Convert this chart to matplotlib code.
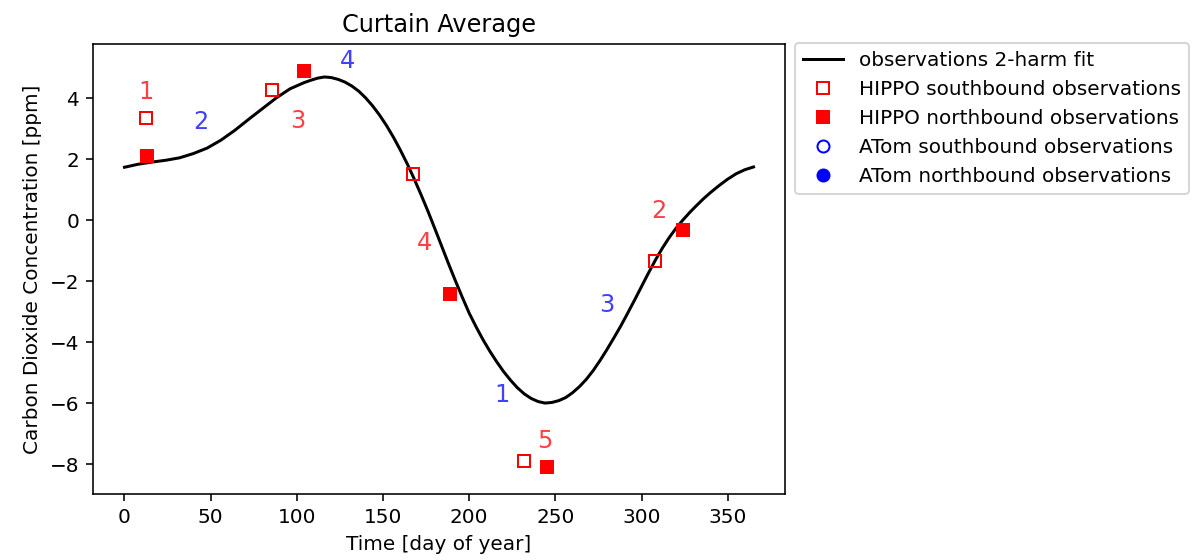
import matplotlib
matplotlib.use("Agg")
import matplotlib.pyplot as plt
import numpy as np

# 2-harmonic fit curve
fit_day = [0, 8, 16, 24, 32, 40, 48, 56, 64, 72, 80, 88, 96, 104, 108, 112, 116,
           120, 124, 128, 132, 136, 140, 144, 148, 152, 156, 160, 164, 168, 172,
           176, 180, 184, 188, 192, 196, 200, 204, 208, 212, 216, 220, 224, 228,
           232, 236, 240, 244, 248, 252, 256, 260, 264, 268, 272, 276, 280, 284,
           288, 292, 296, 300, 304, 308, 312, 316, 320, 324, 328, 332, 336, 340,
           345, 350, 355, 360, 365]
fit_co2 = [1.73, 1.83, 1.90, 1.96, 2.04, 2.18, 2.36, 2.62, 2.94, 3.30, 3.65, 4.00,
           4.30, 4.50, 4.58, 4.65, 4.69, 4.67, 4.61, 4.52, 4.39, 4.22, 4.00, 3.74,
           3.44, 3.10, 2.72, 2.30, 1.85, 1.36, 0.84, 0.30, -0.27, -0.85, -1.43,
           -1.99, -2.53, -3.05, -3.50, -3.92, -4.30, -4.65, -4.97, -5.25, -5.50,
           -5.70, -5.85, -5.95, -6.00, -5.98, -5.92, -5.82, -5.66, -5.46, -5.22,
           -4.93, -4.60, -4.24, -3.86, -3.47, -3.05, -2.62, -2.18, -1.74, -1.32,
           -0.93, -0.58, -0.27, 0.00, 0.25, 0.48, 0.70, 0.90, 1.13, 1.34, 1.52,
           1.65, 1.74]

# HIPPO observations
hippo_s_day = [12.2, 85.8, 167.5, 231.9, 307.8]
hippo_s_co2 = [3.34, 4.26, 1.51, -7.90, -1.34]
hippo_n_day = [13.3, 104.3, 189.0, 245.2, 324.0]
hippo_n_co2 = [2.10, 4.89, -2.43, -8.10, -0.33]

# campaign number labels
hippo_lab = ['1', '3', '4', '5', '2']
hippo_lab_x = [12.2, 100.3, 173.9, 244.0, 310.0]
hippo_lab_y = [4.20, 3.25, -0.75, -7.25, 0.30]
atom_lab = ['2', '4', '1', '3']
atom_lab_x = [44.6, 129.3, 219.0, 280.0]
atom_lab_y = [3.20, 5.20, -5.74, -2.80]

fig = plt.figure(figsize=(1199 / 144, 560 / 144), dpi=144)
ax = fig.add_axes([0.0776, 0.1179, 0.5771, 0.8035])

ax.plot(fit_day, fit_co2, 'k-', label='observations 2-harm fit')
ax.plot(hippo_s_day, hippo_s_co2, 's', color='red', mfc='none', ls='none',
        label='HIPPO southbound observations')
ax.plot(hippo_n_day, hippo_n_co2, 's', color='red', ls='none',
        label='HIPPO northbound observations')
ax.plot([], [], 'o', color='blue', mfc='none', ls='none',
        label='ATom southbound observations')
ax.plot([], [], 'o', color='blue', ls='none',
        label='ATom northbound observations')

for t, x, y in zip(hippo_lab, hippo_lab_x, hippo_lab_y):
    ax.text(x, y, t, color='red', alpha=0.75, fontsize=12, ha='center', va='center')
for t, x, y in zip(atom_lab, atom_lab_x, atom_lab_y):
    ax.text(x, y, t, color='blue', alpha=0.75, fontsize=12, ha='center', va='center')

ax.set_xlim(-18.25, 383.25)
ax.set_ylim(-8.98, 5.77)
ax.set_xlabel('Time [day of year]')
ax.set_ylabel('Carbon Dioxide Concentration [ppm]')
ax.set_title('Curtain Average')
ax.legend(loc='upper left', bbox_to_anchor=(1.014, 1.003), borderaxespad=0)

fig.savefig('out.png', dpi=144)
